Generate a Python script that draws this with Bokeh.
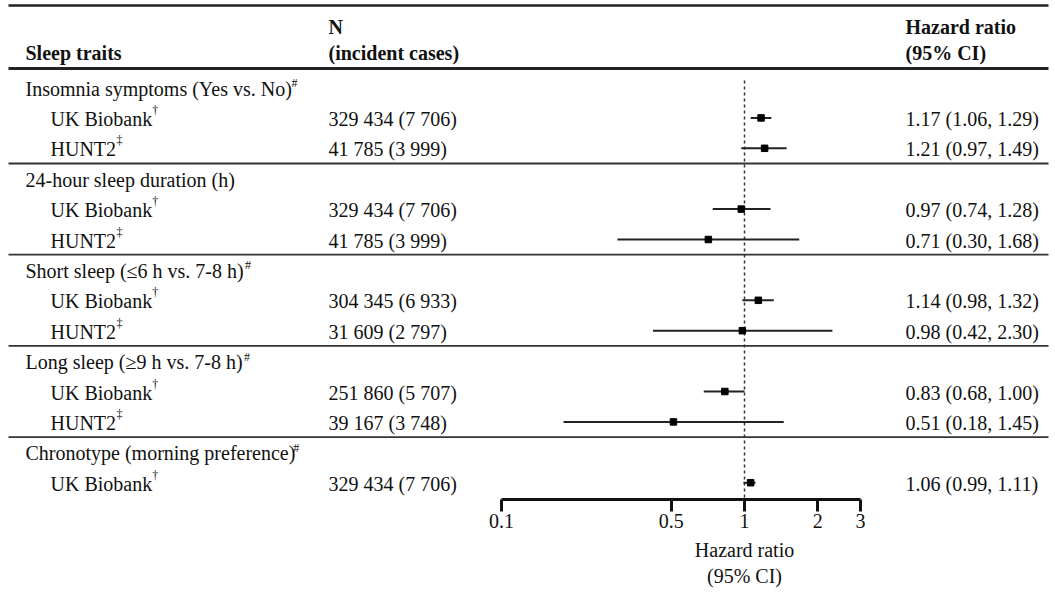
from bokeh.plotting import figure
from bokeh.layouts import column
from bokeh.models import (Range1d, LogScale, LogAxis, FixedTicker,
                          CustomJSTickFormatter, ColumnDataSource)
from bokeh.core.properties import value
from bokeh.embed import file_html
from bokeh.resources import INLINE

# ---------------- data ----------------
groups = ["Insomnia symptoms (Yes vs. No)",
          "24-hour sleep duration (h)",
          "Short sleep (\u22646 h vs. 7-8 h)",
          "Long sleep (\u22659 h vs. 7-8 h)",
          "Chronotype (morning preference)"]
group_sup = ["#", "", "#", "#", "#"]
cohorts = [["UK Biobank", "HUNT2"],
           ["UK Biobank", "HUNT2"],
           ["UK Biobank", "HUNT2"],
           ["UK Biobank", "HUNT2"],
           ["UK Biobank"]]
cohort_sup = {"UK Biobank": "\u2020", "HUNT2": "\u2021"}
n_cases = [["329 434 (7 706)", "41 785 (3 999)"],
           ["329 434 (7 706)", "41 785 (3 999)"],
           ["304 345 (6 933)", "31 609 (2 797)"],
           ["251 860 (5 707)", "39 167 (3 748)"],
           ["329 434 (7 706)"]]
hr = [[1.17, 1.21], [0.97, 0.71], [1.14, 0.98], [0.83, 0.51], [1.06]]
lo = [[1.06, 0.97], [0.74, 0.30], [0.98, 0.42], [0.68, 0.18], [0.99]]
hi = [[1.29, 1.49], [1.28, 1.68], [1.32, 2.30], [1.00, 1.45], [1.11]]
ticks = [0.1, 0.5, 1, 2, 3]
head_col1 = ["", "Sleep traits"]
head_col2 = ["N", "(incident cases)"]
head_col3 = ["Hazard ratio", "(95% CI)"]
axis_title = ["Hazard ratio", "(95% CI)"]

# ---------------- layout constants ----------------
W, H = 1055, 610
FRAME_H = 499
TOP_H = 537
BOT_H = H - TOP_H
ROW0, ROW_H = 87.0, 30.4
DY = 1.0              # text centre offset from row centre
FS = 20               # font size px
SUP_FS = 12
FONT = "Liberation Serif"
X_GROUP, X_COH, X_N, X_HR = 25, 50, 328, 905
LINE_X0, LINE_X1 = 8, 1048
PX_ONE, PX_DEC = 744.0, 243.0
INK = "#111111"

TW = {' ': 250, '(': 333, ')': 333, '-': 333, '.': 250, ',': 250,
      '\u2264': 700, '\u2265': 700}
for d in "0123456789":
    TW[d] = 500
TW.update(dict(zip("ABCDEFGHIJKLMNOPQRSTUVWXYZ",
                   [722, 667, 667, 722, 611, 556, 722, 722, 333, 389, 722, 611, 889,
                    722, 722, 556, 722, 667, 556, 611, 722, 722, 944, 722, 722, 611])))
TW.update(dict(zip("abcdefghijklmnopqrstuvwxyz",
                   [444, 500, 444, 500, 444, 333, 500, 500, 278, 278, 500, 278, 778,
                    500, 500, 500, 500, 333, 389, 278, 500, 500, 722, 500, 500, 444])))


def text_w(s, fs=FS):
    return sum(TW.get(c, 500) for c in s) * fs / 1000.0 * 0.986


# ---------------- build rows ----------------
txt = dict(x=[], y=[], text=[])
sup = dict(x=[], y=[], text=[])
nt = dict(x=[], y=[], text=[])
hrt = dict(x=[], y=[], text=[])
pts = dict(hr=[], lo=[], hi=[], y=[])
sep_y = []

row = 0
for gi, g in enumerate(groups):
    yc = ROW0 + ROW_H * row
    txt["x"].append(X_GROUP); txt["y"].append(yc + DY); txt["text"].append(g)
    if group_sup[gi]:
        sup["x"].append(X_GROUP + text_w(g) + 1.5)
        sup["y"].append(yc + DY - 5.5)
        sup["text"].append(group_sup[gi])
    row += 1
    for ci, c in enumerate(cohorts[gi]):
        yc = ROW0 + ROW_H * row
        txt["x"].append(X_COH); txt["y"].append(yc + DY); txt["text"].append(c)
        sup["x"].append(X_COH + text_w(c) + 1.5)
        sup["y"].append(yc + DY - 9)
        sup["text"].append(cohort_sup[c])
        nt["x"].append(X_N); nt["y"].append(yc + DY); nt["text"].append(n_cases[gi][ci])
        h, l, u = hr[gi][ci], lo[gi][ci], hi[gi][ci]
        hrt["x"].append(X_HR); hrt["y"].append(yc + DY)
        hrt["text"].append(f"{h:.2f} ({l:.2f}, {u:.2f})")
        pts["hr"].append(h); pts["lo"].append(l); pts["hi"].append(u); pts["y"].append(yc)
        row += 1
    if gi < len(groups) - 1:
        sep_y.append(ROW0 + ROW_H * (row - 0.5))

log_start = 10 ** ((0 - PX_ONE) / PX_DEC)
log_end = 10 ** ((W - PX_ONE) / PX_DEC)

# ---------------- main figure ----------------
p = figure(width=W, height=TOP_H, x_range=Range1d(0, W), y_range=Range1d(FRAME_H, 0),
           x_axis_location=None, y_axis_location=None, toolbar_location=None,
           output_backend="svg", min_border_left=0, min_border_right=0,
           min_border_top=0, min_border_bottom=TOP_H - FRAME_H)
p.grid.visible = False
p.outline_line_color = None
p.background_fill_color = "white"
p.border_fill_color = "white"
p.extra_x_ranges = {"log": Range1d(log_start, log_end)}
p.extra_x_scales = {"log": LogScale()}

# table rules
p.segment(x0=[LINE_X0], x1=[LINE_X1], y0=[5], y1=[5], line_width=2.6, line_color="#222222")
p.segment(x0=[LINE_X0], x1=[LINE_X1], y0=[68], y1=[68], line_width=2.8, line_color="#222222")
p.segment(x0=[LINE_X0] * len(sep_y), x1=[LINE_X1] * len(sep_y), y0=sep_y, y1=sep_y,
          line_width=1.8, line_color="#333333")

# reference line at HR = 1
p.segment(x0=[1], x1=[1], y0=[ROW0 - 7], y1=[FRAME_H], x_range_name="log",
          line_width=1.5, line_color="#333333", line_dash="3 3")

# header text
hdr = dict(x=[], y=[], text=[])
for i, (a, b, c) in enumerate(zip(head_col1, head_col2, head_col3)):
    ym = 26 if i == 0 else 52.5
    for xx, t in ((X_GROUP, a), (X_N, b), (X_HR, c)):
        if t:
            hdr["x"].append(xx); hdr["y"].append(ym); hdr["text"].append(t)
p.text(x="x", y="y", text="text", source=ColumnDataSource(hdr),
       text_font=value(FONT), text_font_size=f"{FS}px", text_font_style="bold",
       text_color=INK, text_baseline="middle", text_align="left")

for src in (txt, nt, hrt):
    p.text(x="x", y="y", text="text", source=ColumnDataSource(src),
           text_font=value(FONT), text_font_size=f"{FS}px",
           text_color=INK, text_baseline="middle", text_align="left")
p.text(x="x", y="y", text="text", source=ColumnDataSource(sup),
       text_font=value(FONT), text_font_size=f"{SUP_FS}px",
       text_color=INK, text_baseline="middle", text_align="left")

# forest
fsrc = ColumnDataSource(pts)
p.segment(x0="lo", x1="hi", y0="y", y1="y", source=fsrc, x_range_name="log",
          line_width=2, line_color="#222222")
p.scatter(x="hr", y="y", source=fsrc, x_range_name="log", marker="square",
          size=6.5, fill_color="black", line_color="black")

# axis
ax = LogAxis(x_range_name="log", ticker=FixedTicker(ticks=ticks),
             formatter=CustomJSTickFormatter(code="return tick.toString()"),
             bounds=(ticks[0], ticks[-1]))
ax.axis_line_width = 3
ax.axis_line_color = "#111111"
ax.major_tick_line_width = 3
ax.major_tick_line_color = "#111111"
ax.major_tick_out = 12
ax.major_tick_in = 0
ax.minor_tick_line_color = None
ax.major_label_text_font = FONT
ax.major_label_text_font_size = f"{FS}px"
ax.major_label_text_color = INK
ax.major_label_standoff = 2
p.add_layout(ax, "below")

# ---------------- axis title strip ----------------
q = figure(width=W, height=BOT_H, x_range=Range1d(log_start, log_end),
           y_range=Range1d(BOT_H, 0), x_axis_type="log",
           x_axis_location=None, y_axis_location=None, toolbar_location=None,
           output_backend="svg", min_border_left=0, min_border_right=0,
           min_border_top=0, min_border_bottom=0)
q.grid.visible = False
q.outline_line_color = None
q.background_fill_color = "white"
q.border_fill_color = "white"
q.text(x=[1, 1], y=[549.5 - TOP_H, 575.5 - TOP_H], text=axis_title,
       text_font=value(FONT), text_font_size=f"{FS}px", text_color=INK,
       text_baseline="middle", text_align="center")

layout = column(p, q, spacing=0)
open("out.html", "w").write(file_html(layout, INLINE))
